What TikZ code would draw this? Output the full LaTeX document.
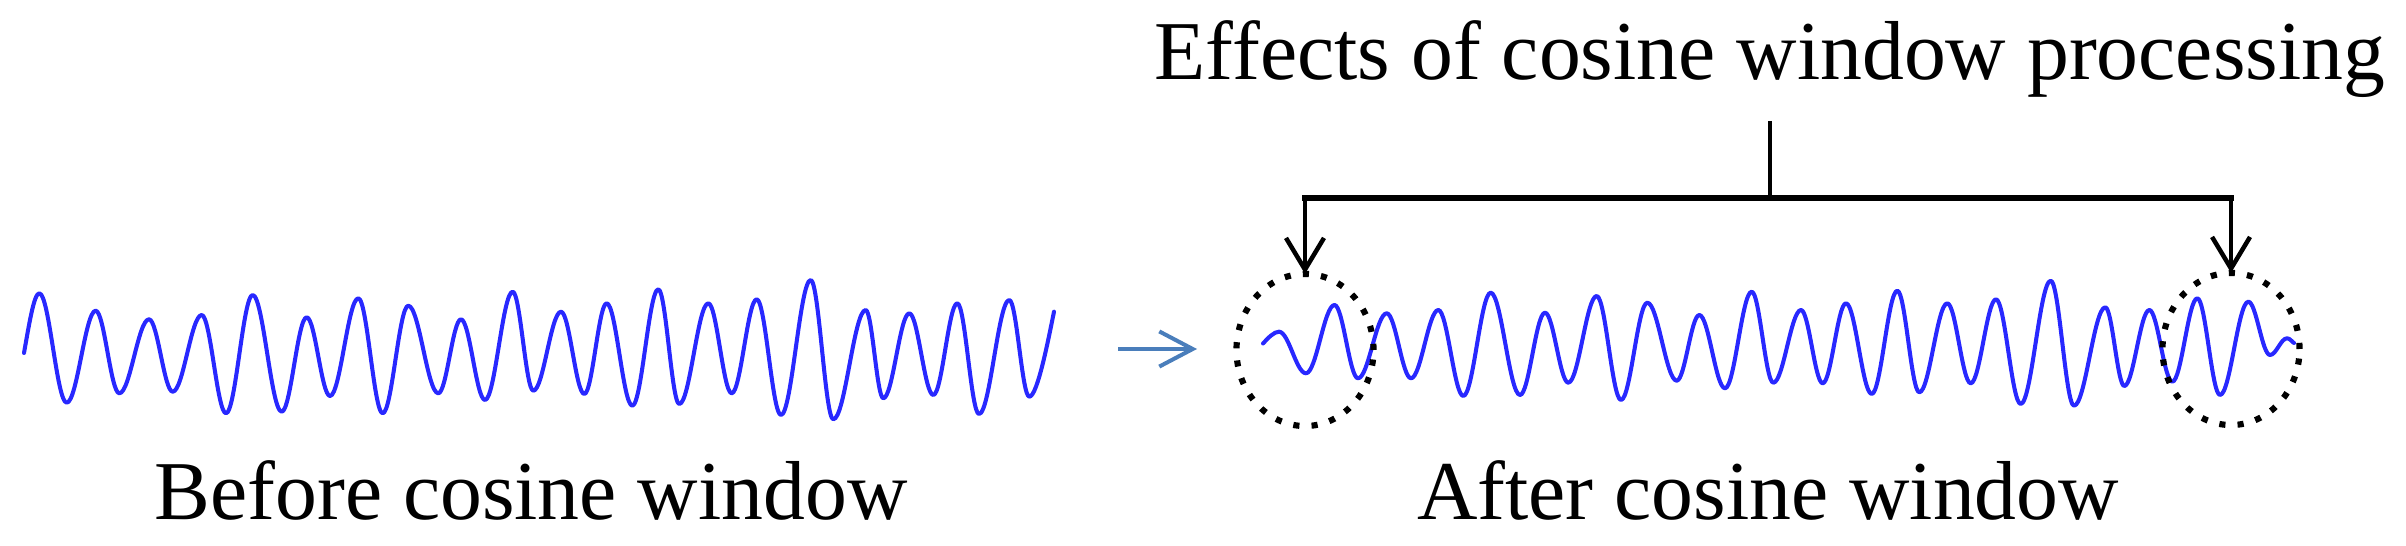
\documentclass[tikz,border=0pt]{standalone}
\usepackage{fontspec}
\setmainfont{Liberation Serif}
\usetikzlibrary{arrows.meta,shapes.geometric}
\definecolor{wave}{RGB}{40,40,255}
\definecolor{arrowblue}{RGB}{74,126,187}
\begin{document}
\begin{tikzpicture}[x=0.01cm,y=-0.01cm,
  wavestyle/.style={draw=wave, line width=1.15pt, line join=round, line cap=round},
  ring/.style={ellipse, draw=black, line width=1.75pt, dash pattern=on 1.75pt off 3.45pt,
    minimum width=1.37cm, minimum height=1.52cm, inner sep=0pt, outer sep=0pt},
  lbl/.style={font=\fontsize{23.8}{28}\selectfont, inner sep=0pt, anchor=base},
  stemline/.style={line width=1.28pt},
  barline/.style={line width=1.85pt, line cap=rect},
  downarrow/.style={line width=1.28pt, -{Straight Barb[length=9pt, width=10.8pt]}},
  bluearrow/.style={draw=arrowblue, line width=1.14pt, -{Straight Barb[length=9.5pt, width=10pt]}}]
\useasboundingbox (0,0) rectangle (2406,546);

% texts
\node[lbl] (title) at (1770,80) {Effects of cosine window processing};
\node[lbl] (before) at (531,519) {Before cosine window};
\node[lbl] (after) at (1768,519) {After cosine window};

% left wave (before)
\draw[wavestyle] (24,353) .. controls (29,325) and (34,293.3) .. (39.3,293.3)
  \foreach \x/\y [remember=\x as \lx (initially 39.3), remember=\y as \ly (initially 293.3)] in
  {66.7/402.7, 95.7/310.7, 119.3/393.3, 149/319.3, 172.7/391.7, 201.7/315, 226/413.3,
   252.7/295, 281.7/411.7, 306.7/317.3, 330/396, 358.3/298.3, 382.7/413.3, 408.3/305.7,
   438.3/393.3, 461/319.3, 485/400, 512.7/291.7, 533.3/390.7, 561/311.7, 584.3/394,
   606.7/303.3, 632.3/405.7, 658.3/289.3, 679.3/404, 708.3/303.3, 731.7/393.3, 756.7/299.3,
   781/415, 810.7/280, 833.3/419.3, 865.7/310, 883.3/398.3, 909.3/313.3, 933.3/395,
   957.3/303.3, 979/414, 1009.3/300, 1029.3/396.7}
  { .. controls ({\lx+0.3634*(\x-\lx)},\ly) and ({\x-0.3634*(\x-\lx)},\y) .. (\x,\y) }
  .. controls (1037.5,396.7) and (1049,336) .. (1054,311.7);

% right wave (after)
\draw[wavestyle] (1263,343.5) .. controls (1268,338) and (1274,331.7) .. (1279,331.7)
  \foreach \x/\y [remember=\x as \lx (initially 1279), remember=\y as \ly (initially 331.7)] in
  {1306/373.3, 1334.5/305, 1358/378.3, 1386.7/313.3, 1411/378.3, 1438.3/310, 1463.3/396,
   1490.7/292.7, 1520/395, 1545/312.7, 1568.3/382.7, 1596.7/296, 1621/400, 1647.3/302.7,
   1676.7/380.7, 1699.3/315, 1725/388.3, 1751.7/291.7, 1773.3/382.7, 1801/310, 1822.7/383.3,
   1846/303.3, 1871.7/394, 1897.3/290.7, 1919.3/392.3, 1947.3/303.3, 1970.7/383.3,
   1996/299.3, 2020.7/404, 2050.7/280.7, 2074/405.7, 2105.3/307.3, 2124.3/386, 2149.3/310,
   2172.3/381.7, 2197.3/298.3, 2220/395, 2248.3/301.7, 2270/355, 2287/338.3}
  { .. controls ({\lx+0.3634*(\x-\lx)},\ly) and ({\x-0.3634*(\x-\lx)},\y) .. (\x,\y) }
  .. controls (2290,338.3) and (2292,342) .. (2294,343);

% blue arrow between the waves
\coordinate (bafrom) at (1118,349);
\coordinate (bato) at (1197,349);
\draw[bluearrow] (bafrom) -- (bato);

% dotted circles
\node[ring] (lc) at (1305,350) {};
\node[ring] (rc) at (2231,349) {};

% bracket
\coordinate (stemtop) at (1770,121);
\coordinate (stembot) at (1770,198);
\coordinate (barL) at (1305,198);
\coordinate (barR) at (2231,198);
\draw[stemline] (stemtop) -- (stembot);
\draw[barline] (barL) -- (barR);
\draw[downarrow] (barL) -- (lc.north);
\draw[downarrow] (barR) -- (rc.north);
\end{tikzpicture}
\end{document}
